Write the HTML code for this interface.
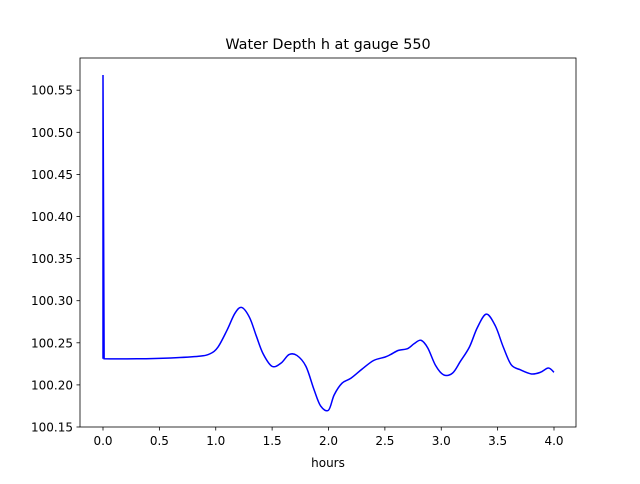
<!DOCTYPE html>
<html><head><meta charset="utf-8"><style>
body{margin:0;background:#fff;font-family:"DejaVu Sans","Liberation Sans",sans-serif;}
svg text{font-family:"DejaVu Sans","Liberation Sans",sans-serif;}
</style></head><body>
<svg width="640" height="480">
<rect width="640" height="480" fill="#fff"/>
<text x="328" y="49" text-anchor="middle" font-size="14.4">Water Depth h at gauge 550</text>
<g id="axes"></g>
<path id="line" fill="none" stroke="#0000ff" stroke-width="1.5"/>
<rect x="80" y="58" width="496" height="369" fill="none" stroke="#000" stroke-width="0.8"/>
<text x="328" y="467" text-anchor="middle" font-size="12">hours</text>
</svg>
<script>
const xs=[0,0,0.01,0.3,0.6,0.85,0.95,1.02,1.1,1.17,1.23,1.3,1.36,1.42,1.5,1.58,1.65,1.72,1.8,1.87,1.93,2.0,2.05,2.12,2.2,2.3,2.4,2.5,2.55,2.62,2.7,2.76,2.82,2.88,2.95,3.02,3.1,3.17,3.25,3.32,3.4,3.48,3.55,3.62,3.7,3.8,3.88,3.95,4.0];
const ys=[100.231,100.568,100.231,100.231,100.232,100.234,100.237,100.245,100.265,100.285,100.292,100.28,100.258,100.237,100.222,100.226,100.236,100.235,100.222,100.195,100.175,100.170,100.188,100.202,100.208,100.219,100.229,100.233,100.236,100.241,100.243,100.249,100.253,100.244,100.223,100.212,100.214,100.228,100.245,100.268,100.284,100.270,100.245,100.224,100.218,100.213,100.215,100.220,100.215];
const xticks=[0,0.5,1,1.5,2,2.5,3,3.5,4];
const yticks=[100.15,100.20,100.25,100.30,100.35,100.40,100.45,100.50,100.55];
const X=v=>103+v*112.75, Y=v=>427-(v-100.15)/0.05*42.1;
const P=xs.map((x,i)=>[X(x),Y(ys[i])]);
let d=`M${P[0][0]},${P[0][1]} L${P[1][0]},${P[1][1]} L${P[2][0]},${P[2][1]}`;
for(let i=2;i<P.length-1;i++){
  const p0=P[Math.max(2,i-1)],p1=P[i],p2=P[i+1],p3=P[Math.min(P.length-1,i+2)];
  const c1=[p1[0]+(p2[0]-p0[0])/6,p1[1]+(p2[1]-p0[1])/6];
  const c2=[p2[0]-(p3[0]-p1[0])/6,p2[1]-(p3[1]-p1[1])/6];
  d+=` C${c1[0]},${c1[1]} ${c2[0]},${c2[1]} ${p2[0]},${p2[1]}`;
}
document.getElementById('line').setAttribute('d',d);
const g=document.getElementById('axes');let h='';
xticks.forEach(t=>{h+=`<line x1="${X(t)}" x2="${X(t)}" y1="427" y2="430.5" stroke="#000" stroke-width="0.8"/><text x="${X(t)}" y="445" text-anchor="middle" font-size="12">${t.toFixed(1)}</text>`;});
yticks.forEach(t=>{h+=`<line x1="76.5" x2="80" y1="${Y(t)}" y2="${Y(t)}" stroke="#000" stroke-width="0.8"/><text x="73" y="${Y(t)+4.5}" text-anchor="end" font-size="12">${t.toFixed(2)}</text>`;});
g.innerHTML=h;
</script>
</body></html>
